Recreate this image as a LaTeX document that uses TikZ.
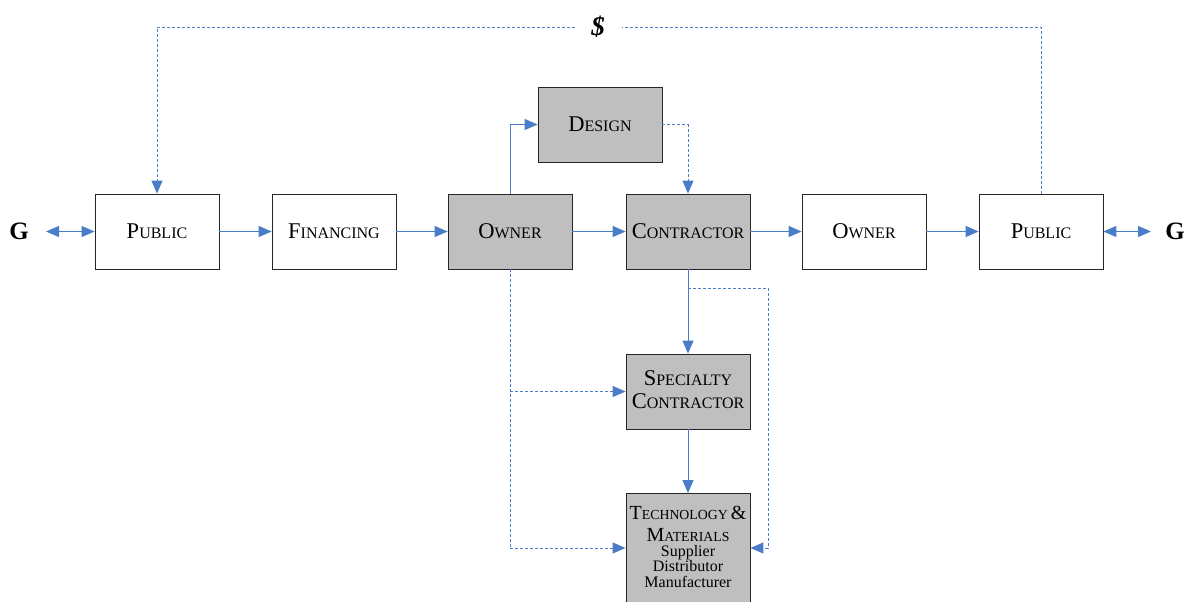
\documentclass[tikz,border=0pt]{standalone}
\usepackage{fontspec}
\setmainfont{Liberation Serif}
\usetikzlibrary{arrows.meta}
\definecolor{ln}{HTML}{4A7CC7}
\definecolor{bx}{HTML}{BFBFBF}
\newcommand\bigsz{22.5}
\newcommand\smsz{16}
\newcommand\mysc[2]{{\fontsize{\bigsz}{\bigsz}\selectfont #1}{\fontsize{\smsz}{\smsz}\selectfont #2}}
\begin{document}
\begin{tikzpicture}[x=1pt,y=-1pt,
  box/.style={draw=black!85,line width=0.8pt,minimum width=124pt,minimum height=75pt,inner sep=0pt,align=center,font=\fontsize{16}{23.5}\selectfont},
  gbox/.style={box,fill=bx},
  con/.style={draw=ln,line width=0.9pt,-{Triangle[length=13pt,width=11pt]}},
  dcon/.style={con,dashed,dash pattern=on 3pt off 2pt},
  dln/.style={draw=ln,line width=0.9pt,dashed,dash pattern=on 3pt off 2pt},
  lbl/.style={font=\fontsize{25}{26}\selectfont\bfseries},
  ttl/.style={anchor=base,inner sep=0pt},
  sub/.style={anchor=base,inner sep=0pt,font=\fontsize{16}{17}\selectfont}]
\useasboundingbox (0,0) rectangle (1184,602);
\node[box] (pubL) at (157,231.5) {\mysc{P}{UBLIC}};
\node[box] (fin) at (334,231.5) {\mysc{F}{INANCING}};
\node[gbox] (own) at (510,231.5) {\mysc{O}{WNER}};
\node[gbox] (con) at (688,231.5) {\mysc{C}{ONTRACTOR}};
\node[box] (own2) at (864,231.5) {\mysc{O}{WNER}};
\node[box] (pubR) at (1041,231.5) {\mysc{P}{UBLIC}};
\node[gbox] (des) at (600,124.5) {\mysc{D}{ESIGN}};
\node[gbox] (spec) at (688,391.5) {};
\node[ttl] (spec1) at (688,385) {\mysc{S}{PECIALTY}};
\node[ttl] (spec2) at (688,408.5) {\mysc{C}{ONTRACTOR}};
\node[gbox,minimum height=124pt,anchor=north] (tech) at (688,493) {};
\renewcommand\bigsz{20}\renewcommand\smsz{13.8}
\node[ttl] (tech1) at (688,519) {\mysc{T}{ECHNOLOGY}\hspace{3pt}\mysc{\&}{}};
\node[ttl] (tech2) at (688,541) {\mysc{M}{ATERIALS}};
\node[sub] (tech3) at (688,556) {Supplier};
\node[sub] (tech4) at (688,571.5) {Distributor};
\node[sub] (tech5) at (688,587) {Manufacturer};
\node[lbl] (gL) at (19,231) {G};
\node[lbl] (gR) at (1175,231) {G};
\node[lbl,font=\fontsize{27}{28}\selectfont\bfseries\itshape] (dol) at (598,27) {\$};
\coordinate (gLe) at (46,231.5);
\coordinate (gRe) at (1151,231.5);
% main row
\draw[con,{Triangle[length=13pt,width=11pt]}-{Triangle[length=13pt,width=11pt]}] (gLe) -- (pubL);
\draw[con,{Triangle[length=13pt,width=11pt]}-{Triangle[length=13pt,width=11pt]}] (gRe) -- (pubR);
\draw[con] (pubL) -- (fin);
\draw[con] (fin) -- (own);
\draw[con] (own) -- (con);
\draw[con] (con) -- (own2);
\draw[con] (own2) -- (pubR);
% design
\draw[con] (own.north) |- (des.west);
\draw[dcon] (des.east) -| (con.north);
% money loop
\coordinate (mL) at (157,27);
\coordinate (mR) at (1041,27);
\coordinate (dR) at (622,27);
\coordinate (dL) at (575,27);
\draw[dln] (pubR.north) -- (mR) -- (dR);
\draw[dcon] (dL) -- (mL) -- (pubL.north);
% contractor down
\draw[con] (con.south) -- (spec.north);
\draw[con] (spec.south) -- (tech.north);
\coordinate (cb) at (688,288);
\coordinate (cr) at (768,288);
\coordinate (cr2) at (768,548);
\draw[dln] (cb) -- (cr);
\draw[dcon] (cr) -- (cr2) -- (tech.east |- cr2);
% owner down
\coordinate (ob) at (510,548);
\coordinate (om) at (510,391.5);
\draw[dln] (own.south) -- (ob);
\draw[dcon] (ob) -- (tech.west |- ob);
\draw[dcon] (om) -- (spec.west);
\end{tikzpicture}
\end{document}
